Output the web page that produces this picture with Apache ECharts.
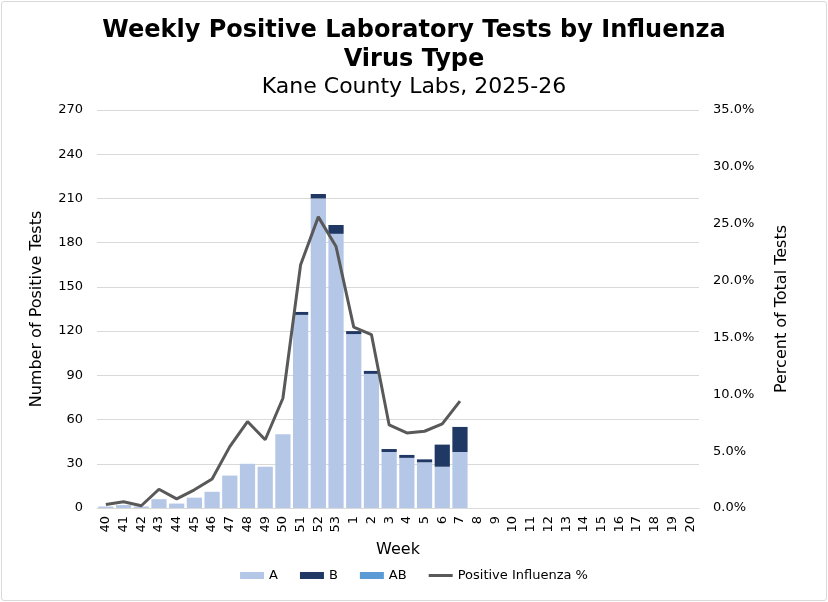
<!DOCTYPE html>
<html><head><meta charset="utf-8">
<script src="https://cdn.jsdelivr.net/npm/echarts@6/dist/echarts.min.js"></script>
<style>
html,body{margin:0;padding:0;background:#fff;}
#wrap{position:absolute;left:1px;top:1px;width:824px;height:598px;border:1px solid #d9d9d9;border-radius:3px;}
#c{width:824px;height:598px;}
</style></head>
<body><div id="wrap"><div id="c"></div></div>
<script>
const weeks = ['40','41','42','43','44','45','46','47','48','49','50','51','52','53','1','2','3','4','5','6','7','8','9','10','11','12','13','14','15','16','17','18','19','20'];
const typeA  = [1,2,1,6,3,7,11,22,30,28,50,131,210,186,118,91,38,34,31,28,38,null,null,null,null,null,null,null,null,null,null,null,null,null];
const typeB  = [0,0,0,0,0,0,0,0,0,0,0,2,3,6,2,2,2,2,2,15,17,null,null,null,null,null,null,null,null,null,null,null,null,null];
const typeAB = [0,0,0,0,0,0,0,0,0,0,0,0,0,0,0,0,0,0,0,0,0,null,null,null,null,null,null,null,null,null,null,null,null,null];
const positivePct = [0.3,0.55,0.2,1.65,0.8,1.6,2.55,5.4,7.6,6.0,9.65,21.4,25.6,23.0,15.9,15.25,7.3,6.6,6.75,7.4,9.4,null,null,null,null,null,null,null,null,null,null,null,null,null];
const leftTicks = {min:0,max:270,interval:30};
const rightTicks = {min:0,max:35,interval:5};

const F = 'Verdana, "DejaVu Sans", sans-serif';
const chart = echarts.init(document.getElementById('c'));
chart.setOption({
  animation:false,
  textStyle:{fontFamily:F},
  title:[
    {text:'Weekly Positive Laboratory Tests by Influenza\nVirus Type',left:'center',top:9,
     textStyle:{fontFamily:F,fontSize:24,fontWeight:'bold',color:'#000',lineHeight:29}},
    {text:'Kane County Labs, 2025-26',left:'center',top:69,
     textStyle:{fontFamily:F,fontSize:22,fontWeight:'normal',color:'#000'}}
  ],
  legend:{bottom:13,left:'center',itemWidth:24,itemHeight:7,itemGap:22,
    textStyle:{fontFamily:F,fontSize:13,color:'#000'},
    data:[{name:'A',icon:'rect'},{name:'B',icon:'rect'},{name:'AB',icon:'rect'},
          {name:'Positive Influenza %',icon:'path://M0,0H24V3H0Z',itemStyle:{color:'#595959'}}]},
  grid:{left:95,right:127,top:108,bottom:92,containLabel:false},
  xAxis:{type:'category',data:weeks,
    axisLine:{lineStyle:{color:'#d9d9d9'}},axisTick:{show:false},
    axisLabel:{rotate:90,color:'#000',fontSize:13,fontFamily:F,margin:8,interval:0},
    name:'Week',nameLocation:'middle',nameGap:34,
    nameTextStyle:{fontFamily:F,fontSize:16,color:'#000'}},
  yAxis:[
    {type:'value',min:leftTicks.min,max:leftTicks.max,interval:leftTicks.interval,
     axisLabel:{color:'#000',fontSize:13,fontFamily:F,margin:14},
     splitLine:{lineStyle:{color:'#d9d9d9'}},axisLine:{show:false},axisTick:{show:false},
     name:'Number of Positive Tests',nameLocation:'middle',nameGap:52,
     nameTextStyle:{fontFamily:F,fontSize:16,color:'#000'}},
    {type:'value',min:rightTicks.min,max:rightTicks.max,interval:rightTicks.interval,
     axisLabel:{color:'#000',fontSize:13,fontFamily:F,margin:14,formatter:v=>v.toFixed(1)+'%'},
     splitLine:{show:false},axisLine:{show:false},axisTick:{show:false},
     name:'Percent of Total Tests',nameLocation:'middle',nameGap:75,nameRotate:90,
     nameTextStyle:{fontFamily:F,fontSize:16,color:'#000'}}
  ],
  series:[
    {name:'A',type:'bar',stack:'t',data:typeA,barCategoryGap:'14%',itemStyle:{color:'#b4c7e7'}},
    {name:'B',type:'bar',stack:'t',data:typeB,itemStyle:{color:'#203864'}},
    {name:'AB',type:'bar',stack:'t',data:typeAB,itemStyle:{color:'#5b9bd5'}},
    {name:'Positive Influenza %',type:'line',yAxisIndex:1,data:positivePct,showSymbol:false,symbol:'none',
     lineStyle:{color:'#595959',width:3},itemStyle:{color:'#595959'}}
  ]
});
</script></body></html>
